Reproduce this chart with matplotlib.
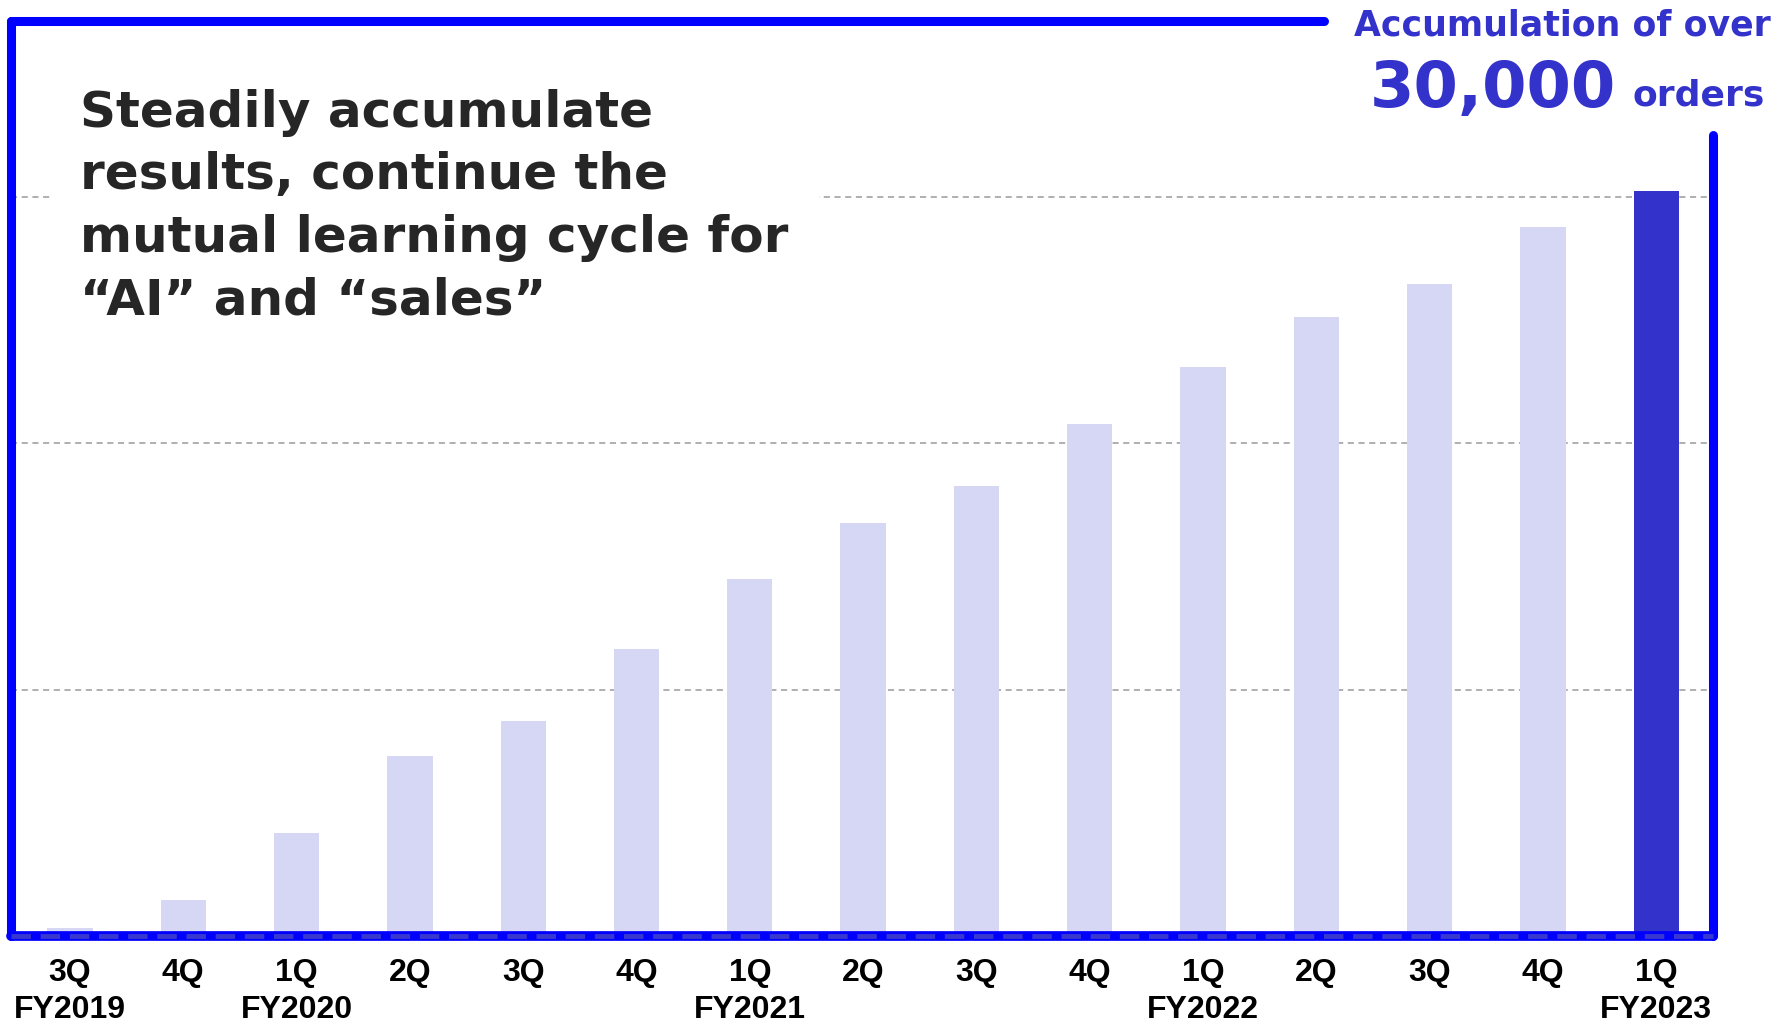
import matplotlib.pyplot as plt
import numpy as np

quarters = ["3Q", "4Q", "1Q", "2Q", "3Q", "4Q", "1Q", "2Q", "3Q", "4Q",
            "1Q", "2Q", "3Q", "4Q", "1Q"]
fiscal_years = ["FY2019", "", "FY2020", "", "", "", "FY2021", "", "", "",
                "FY2022", "", "", "", "FY2023"]
orders = [320, 1480, 4160, 7300, 8740, 11650, 14470, 16740, 18260, 20760,
          23070, 25100, 26440, 28760, 30240]
grid_levels = [10000, 20000, 30000]

LIGHT = "#D6D7F4"
DARK = "#3333CC"
FRAME = "#0000FF"

fig = plt.figure(figsize=(17.89, 10.23), dpi=100)
ax = fig.add_axes([11 / 1789, 1 - 936 / 1023, (1713 - 11) / 1789, (936 - 21) / 1023])

x = np.arange(len(orders))
colors = [LIGHT] * (len(orders) - 1) + [DARK]
ax.bar(x, orders, width=0.4, color=colors, zorder=2)

ax.set_xlim(-0.52, 14.5)
ax.set_ylim(0, 37120)

for g in grid_levels:
    ax.axhline(g, color="#9a9a9a", lw=1.1, ls=(0, (4, 3)), zorder=1)

# frame drawn by hand: top line stops before the headline, right line starts below it
ax.plot([-0.52, -0.52], [0, 37120], color=FRAME, lw=6.5, solid_capstyle="round",
        clip_on=False, zorder=4)
ax.plot([-0.52, 11.07], [37120, 37120], color=FRAME, lw=6.5, solid_capstyle="round",
        clip_on=False, zorder=4)
ax.plot([14.5, 14.5], [0, 32500], color=FRAME, lw=6.5, solid_capstyle="round",
        clip_on=False, zorder=4)
ax.plot([-0.52, 14.5], [0, 0], color=FRAME, lw=7, solid_capstyle="round",
        clip_on=False, zorder=4)
ax.plot([-0.52, 14.5], [0, 0], color="#3838D0", lw=3.5, ls=(0, (4, 2)),
        clip_on=False, zorder=5)

for side in ax.spines.values():
    side.set_visible(False)
ax.set_yticks([])
ax.set_xticks(x)
ax.set_xticklabels([f"{q}\n{fy}" for q, fy in zip(quarters, fiscal_years)],
                   fontsize=23, fontweight="bold", family="Liberation Sans",
                   linespacing=1.3, va="top")
ax.tick_params(axis="x", length=0, pad=16)

ax.text(80 / 1789, 1 - 89 / 1023,
        "Steadily accumulate\nresults, continue the\nmutual learning cycle for\n\u201cAI\u201d and \u201csales\u201d",
        transform=fig.transFigure, fontsize=36, fontweight="bold", color="#262626",
        va="top", ha="left", linespacing=1.38, zorder=6,
        bbox=dict(facecolor="white", edgecolor="none", pad=22))

fig.text(1562 / 1789, 1 - 26 / 1023, "Accumulation of over", fontsize=25,
         fontweight="bold", color=DARK, ha="center", va="center")
fig.text(1493 / 1789, 1 - 89 / 1023, "30,000", fontsize=46,
         fontweight="bold", color=DARK, ha="center", va="center")
fig.text(1699 / 1789, 1 - 96 / 1023, "orders", fontsize=26,
         fontweight="bold", color=DARK, ha="center", va="center")

fig.savefig("out.png", dpi=100)
